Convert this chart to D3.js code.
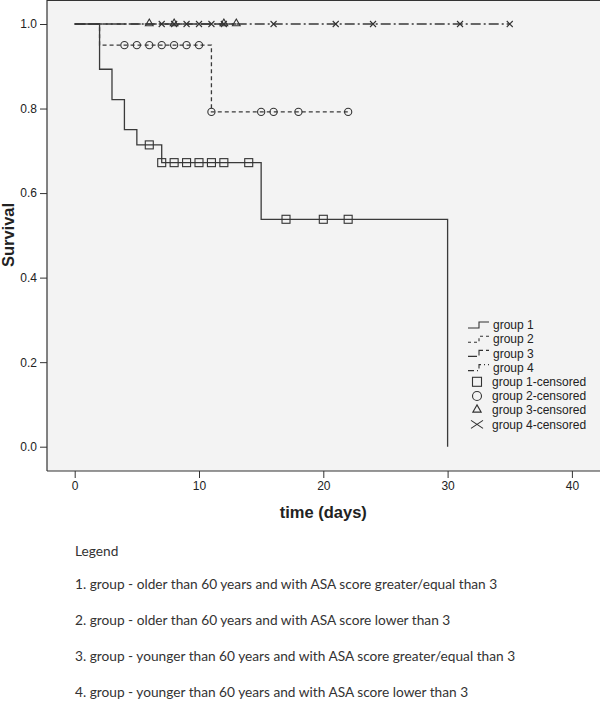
<!DOCTYPE html>
<html lang="en">
<head>
  <meta charset="UTF-8">
  <title>Survival by group</title>
  <style>
    body { margin: 0; background: #fff; }
    svg { display: block; }
    .axis text { font-family: "Liberation Sans", Arial, Helvetica, sans-serif; font-size: 12px; fill: #222; }
    .axis line { stroke: #333; }
    .legend text { font-family: "Liberation Sans", Arial, Helvetica, sans-serif; font-size: 12px; fill: #222; }
    .notes text { font-family: Lato, "Open Sans", sans-serif; font-size: 13.7px; fill: #333; }
    .title { font-family: "Liberation Sans", Arial, Helvetica, sans-serif; font-weight: bold; fill: #222; }
  </style>
  <script src="https://d3js.org/d3.v7.min.js"></script>
</head>
<body>
  <div id="chart"></div>
  <script>
    // axis setup
    const timeTicks = [0, 10, 20, 30, 40];
    const survTicks = [0, 0.2, 0.4, 0.6, 0.8, 1.0];

    // group 1 (solid) step curve and censored points
    const g1Times = [0, 2, 3, 4, 5, 7, 15, 30];
    const g1Surv = [1, 0.893, 0.821, 0.75, 0.714, 0.672, 0.538, 0];
    const g1CensTimes = [6, 7, 8, 9, 10, 11, 12, 14, 17, 20, 22];
    const g1CensSurv = [0.714, 0.672, 0.672, 0.672, 0.672, 0.672, 0.672, 0.672, 0.538, 0.538, 0.538];

    // group 2
    const g2Times = [0, 2, 11, 22];
    const g2Surv = [1, 0.95, 0.792, 0.792];
    const g2CensTimes = [4, 5, 6, 7, 8, 9, 10, 11, 15, 16, 18, 22];
    const g2CensSurv = [0.95, 0.95, 0.95, 0.95, 0.95, 0.95, 0.95, 0.792, 0.792, 0.792, 0.792, 0.792];

    // group 3
    const g3Times = [0, 13];
    const g3Surv = [1, 1];
    const g3CensTimes = [6, 8, 12, 13];

    // group 4
    const g4Times = [0, 35];
    const g4Surv = [1, 1];
    const g4CensTimes = [7, 8, 9, 10, 11, 12, 16, 21, 24, 31, 35];

    const legendLabels = ["group 1", "group 2", "group 3", "group 4",
      "group 1-censored", "group 2-censored", "group 3-censored", "group 4-censored"];

    const noteLines = [
      "Legend",
      "1. group - older than 60 years and with ASA score greater/equal than 3",
      "2. group - older than 60 years and with ASA score lower than 3",
      "3. group - younger than 60 years and with ASA score greater/equal than 3",
      "4. group - younger than 60 years and with ASA score lower than 3"
    ];

    const W = 600, H = 701;
    const frame = {left: 47, top: 0.5, right: 600, bottom: 471};

    const svg = d3.select("#chart").append("svg")
      .attr("width", W).attr("height", H);

    const x = d3.scaleLinear().domain([0, 40]).range([74.7, 571.9]);
    const y = d3.scaleLinear().domain([0, 1]).range([446.7, 24]);

    // plot background + frame
    svg.append("rect")
      .attr("x", frame.left).attr("y", frame.top)
      .attr("width", frame.right - frame.left).attr("height", frame.bottom - frame.top)
      .attr("fill", "#f3f3f3");
    svg.append("path")
      .attr("d", `M${frame.left},${frame.bottom}V${frame.top}H${frame.right}M${frame.left},${frame.bottom}H${frame.right}`)
      .attr("fill", "none").attr("stroke", "#333").attr("stroke-width", 1.2);

    // axes
    const yAxis = svg.append("g").attr("class", "axis")
      .attr("transform", `translate(${frame.left},0)`)
      .call(d3.axisLeft(y).tickValues(survTicks).tickFormat(d3.format(".1f")).tickSize(7).tickPadding(3));
    yAxis.select(".domain").remove();

    const xAxis = svg.append("g").attr("class", "axis")
      .attr("transform", `translate(0,${frame.bottom})`)
      .call(d3.axisBottom(x).tickValues(timeTicks).tickFormat(d3.format("d")).tickSize(7).tickPadding(3));
    xAxis.select(".domain").remove();

    svg.append("text").attr("class", "title")
      .attr("transform", `translate(14,235) rotate(-90)`)
      .attr("text-anchor", "middle")
      .style("font-size", "16.5px")
      .text("Survival");

    svg.append("text").attr("class", "title")
      .attr("x", x(20)).attr("y", 518)
      .attr("text-anchor", "middle")
      .style("font-size", "16.5px")
      .text("time (days)");

    // survival curves
    const step = d3.line().x(d => x(d[0])).y(d => y(d[1])).curve(d3.curveStepAfter);
    const curves = [
      {t: g4Times, s: g4Surv, dash: "10,3,2,3"},
      {t: g3Times, s: g3Surv, dash: "10,4"},
      {t: g2Times, s: g2Surv, dash: "4,3"},
      {t: g1Times, s: g1Surv, dash: null}
    ];
    curves.forEach(c => {
      svg.append("path")
        .attr("d", step(d3.zip(c.t, c.s)))
        .attr("fill", "none").attr("stroke", "#3a3a3a").attr("stroke-width", 1.3)
        .attr("stroke-dasharray", c.dash);
    });

    // censored markers
    const mk = svg.append("g").attr("fill", "none").attr("stroke", "#333").attr("stroke-width", 1.1);
    mk.selectAll(".sq").data(d3.zip(g1CensTimes, g1CensSurv)).enter().append("rect")
      .attr("x", d => x(d[0]) - 4).attr("y", d => y(d[1]) - 4)
      .attr("width", 8).attr("height", 8);
    mk.selectAll(".ci").data(d3.zip(g2CensTimes, g2CensSurv)).enter().append("circle")
      .attr("cx", d => x(d[0])).attr("cy", d => y(d[1])).attr("r", 3.6);
    mk.selectAll(".tr").data(g3CensTimes).enter().append("path")
      .attr("transform", d => `translate(${x(d)},${y(1) - 0.5})`)
      .attr("d", d3.symbol(d3.symbolTriangle, 26)());
    mk.selectAll(".xx").data(g4CensTimes).enter().append("path")
      .attr("transform", d => `translate(${x(d)},${y(1)})`)
      .attr("d", "M-3,-3L3,3M-3,3L3,-3");

    // legend inside plot
    const lg = svg.append("g").attr("class", "legend");
    const lgX = 468, lgTextX = 493, lgY0 = 325, lgDy = 14.2;
    const lgDash = [null, "3,3", "9,3", "6,3,1,3"];
    lg.selectAll("text").data(legendLabels).enter().append("text")
      .attr("x", (d, i) => i < 4 ? lgTextX : lgTextX - 1)
      .attr("y", (d, i) => lgY0 + i * lgDy)
      .attr("dy", "0.35em")
      .text(d => d);
    lgDash.forEach((dash, i) => {
      const cy = lgY0 + i * lgDy;
      lg.append("path")
        .attr("d", `M${lgX},${cy + 3}H${lgX + 11}V${cy - 3}H${lgX + 21}`)
        .attr("fill", "none").attr("stroke", "#333").attr("stroke-width", 1.1)
        .attr("stroke-dasharray", dash);
    });
    const sx = 477;
    const lgm = lg.append("g").attr("fill", "none").attr("stroke", "#333").attr("stroke-width", 1.1);
    lgm.append("rect").attr("x", sx - 4.5).attr("y", lgY0 + 4 * lgDy - 4.5).attr("width", 9).attr("height", 9);
    lgm.append("circle").attr("cx", sx).attr("cy", lgY0 + 5 * lgDy).attr("r", 4.5);
    lgm.append("path").attr("transform", `translate(${sx},${lgY0 + 6 * lgDy - 0.5})`)
      .attr("d", d3.symbol(d3.symbolTriangle, 30)());
    lgm.append("path").attr("transform", `translate(${sx},${lgY0 + 7 * lgDy})`)
      .attr("d", "M-6,-4L6,4M-6,4L6,-4");

    // notes below the chart
    const notes = svg.append("g").attr("class", "notes");
    const noteY = [556, 589, 625, 661, 697];
    notes.selectAll("text").data(noteLines).enter().append("text")
      .attr("x", 75).attr("y", (d, i) => noteY[i])
      .text(d => d);
  </script>
</body>
</html>
